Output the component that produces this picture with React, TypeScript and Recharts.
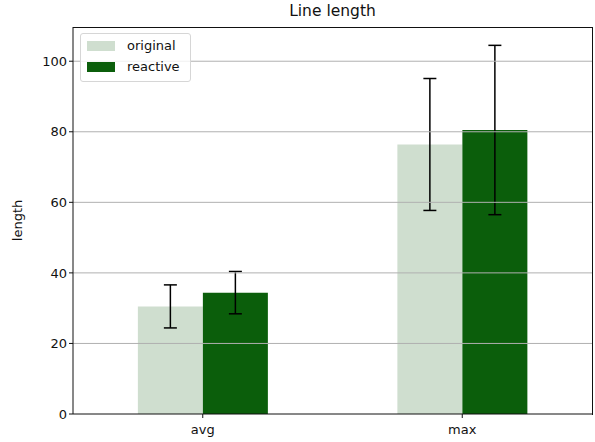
import { Bar, BarChart, ErrorBar, ReferenceLine, XAxis, YAxis } from 'recharts'

const categories = ['avg', 'max']
const original = [30.5, 76.4]
const originalErr = [6.1, 18.7]
const reactive = [34.4, 80.5]
const reactiveErr = [6.0, 24.0]
const yTicks = [0, 20, 40, 60, 80, 100]
const gridTicks = [20, 40, 60, 80, 100]

const LIGHT = '#cfdecf'
const DARK = '#0b5e0b'
const font = 'DejaVu Sans, sans-serif'

const data = categories.map((name, i) => ({
  name,
  original: original[i],
  originalErr: originalErr[i],
  reactive: reactive[i],
  reactiveErr: reactiveErr[i],
}))

function LegendBox() {
  const item = (color: string, label: string) => (
    <div style={{ display: 'flex', alignItems: 'center', height: 21 }}>
      <span style={{ width: 28, height: 10, background: color, marginRight: 12 }} />
      <span>{label}</span>
    </div>
  )
  return (
    <div
      style={{
        position: 'absolute',
        left: 80,
        top: 33,
        border: '1px solid #d6d6d6',
        borderRadius: 3,
        background: 'rgba(255,255,255,0.8)',
        padding: '1px 8px 4px 6px',
        fontFamily: font,
        fontSize: 13,
        color: '#111',
        width: 95,
      }}
    >
      {item(LIGHT, 'original')}
      {item(DARK, 'reactive')}
    </div>
  )
}

export default function App() {
  return (
    <div style={{ position: 'absolute', left: 0, top: 0, width: 595, height: 442, background: '#fff' }}>
      <div
        style={{
          position: 'absolute',
          top: 2,
          left: 73,
          width: 519,
          textAlign: 'center',
          fontFamily: font,
          fontSize: 15.5,
          color: '#111',
        }}
      >
        Line length
      </div>
      <BarChart
        width={595}
        height={442}
        data={data}
        margin={{ top: 27, right: 3, bottom: 0, left: 0 }}
        barCategoryGap="25%"
        barGap={0}
      >
        <XAxis
          dataKey="name"
          height={28}
          tick={{ fontSize: 13, fill: '#111', fontFamily: font, dy: 5 }}
          tickLine={{ stroke: '#111' }}
          tickSize={4}
          axisLine={{ stroke: '#111' }}
        />
        <YAxis
          domain={[0, 109.7]}
          ticks={yTicks}
          width={73}
          tick={{ fontSize: 13, fill: '#111', fontFamily: font }}
          tickLine={{ stroke: '#111' }}
          tickSize={4}
          axisLine={{ stroke: '#111' }}
          label={{
            value: 'length',
            angle: -90,
            position: 'insideLeft',
            offset: 17,
            style: { fontSize: 13, fill: '#111', fontFamily: font, textAnchor: 'middle' },
          }}
        />
        <Bar dataKey="original" fill={LIGHT} isAnimationActive={false}>
          <ErrorBar dataKey="originalErr" width={6.5} stroke="#000" strokeWidth={1.5} />
        </Bar>
        <Bar dataKey="reactive" fill={DARK} isAnimationActive={false}>
          <ErrorBar dataKey="reactiveErr" width={6.5} stroke="#000" strokeWidth={1.5} />
        </Bar>
        {gridTicks.map((t) => (
          <ReferenceLine key={t} y={t} stroke="#b0b0b0" strokeWidth={1} />
        ))}
      </BarChart>
      <div
        style={{
          position: 'absolute',
          left: 72.5,
          top: 26.5,
          width: 519,
          height: 387,
          borderTop: '1px solid #111',
          borderRight: '1px solid #111',
          pointerEvents: 'none',
        }}
      />
      <LegendBox />
    </div>
  )
}
